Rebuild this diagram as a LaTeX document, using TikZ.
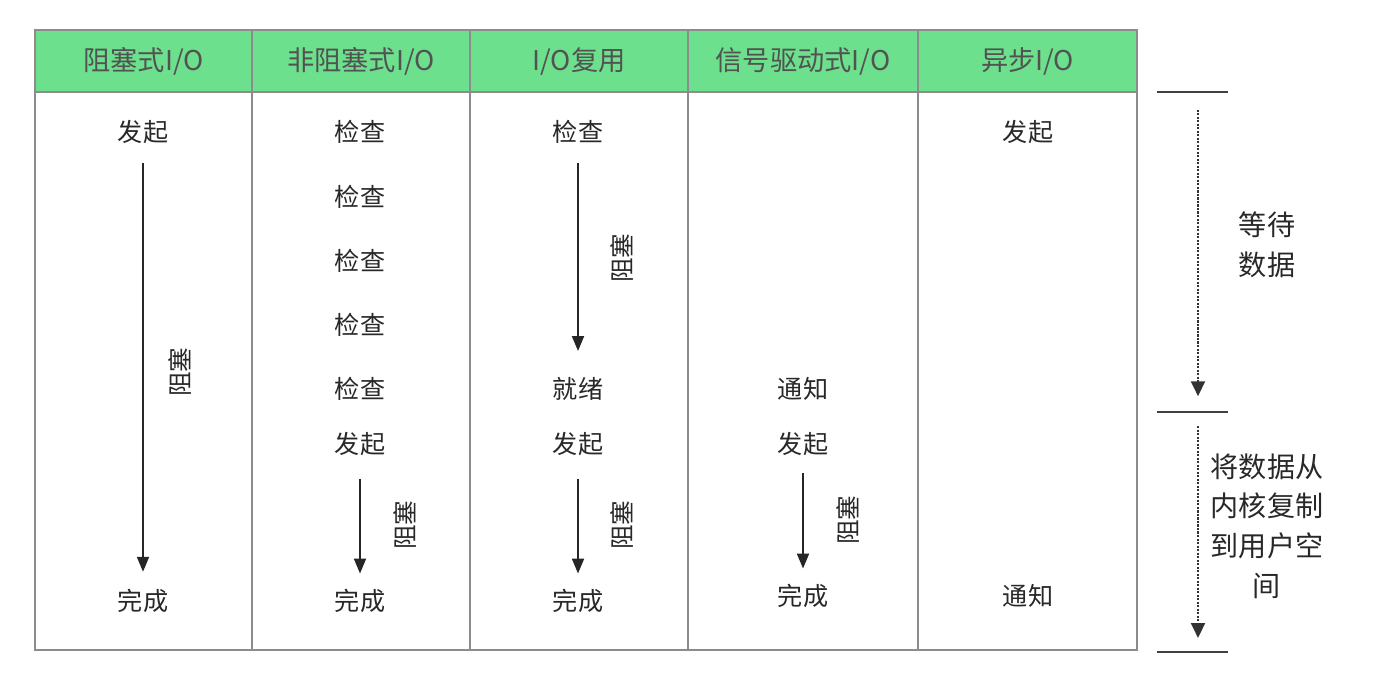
\documentclass[tikz,border=0pt]{standalone}
\usepackage{fontspec}
\setmainfont{Noto Sans CJK SC}
\usetikzlibrary{arrows.meta,positioning}
\definecolor{headgreen}{RGB}{108,224,140}
\definecolor{gridgray}{RGB}{140,140,140}
\definecolor{inkgray}{RGB}{40,40,40}
\tikzset{
  headcell/.style={
    draw=gridgray,
    line width=1.1pt,
    fill=headgreen,
    minimum height=1.24cm,
    inner sep=0pt,
    text=black!68,
    font=\fontsize{15.5}{18}\selectfont
  },
  bodycell/.style={
    draw=gridgray,
    line width=1.1pt,
    fill=white,
    minimum height=11.16cm,
    inner sep=0pt
  },
  stagetext/.style={
    text=inkgray,
    font=\fontsize{14.3}{16}\selectfont,
    inner sep=0pt,
    text height=12pt,
    text depth=2pt
  },
  blocklabel/.style={
    text=inkgray,
    font=\fontsize{14}{16}\selectfont,
    rotate=90,
    inner sep=0pt
  },
  blockarrow/.style={
    -{Triangle[length=8.5pt,width=6.8pt]},
    line width=1.1pt,
    color=black!85,
    shorten <=10pt,
    shorten >=10pt
  },
  phaseline/.style={line width=1.3pt, color=black!75},
  phasearrow/.style={
    dash pattern=on 1.2pt off 0.8pt,
    -{Triangle[length=8.5pt,width=8pt]},
    line width=1pt,
    color=black!80
  },
  phasetext/.style={
    text=inkgray,
    font=\fontsize{16}{22.5}\selectfont,
    align=center,
    inner sep=0pt
  }
}
\begin{document}
\begin{tikzpicture}[x=0.02cm,y=-0.02cm]
\useasboundingbox (0,0) rectangle (1388,690);
% table body and header
\node[bodycell, minimum width=4.34cm] (b1) at (143.5,371) {};
\node[bodycell, minimum width=4.36cm] (b2) at (361,371) {};
\node[bodycell, minimum width=4.36cm] (b3) at (579,371) {};
\node[bodycell, minimum width=4.60cm] (b4) at (803,371) {};
\node[bodycell, minimum width=4.38cm] (b5) at (1027.5,371) {};
\node[headcell, minimum width=4.34cm] (h1) at (143.5,61) {阻塞式I/O};
\node[headcell, minimum width=4.36cm] (h2) at (361,61) {非阻塞式I/O};
\node[headcell, minimum width=4.36cm] (h3) at (579,61) {I/O复用};
\node[headcell, minimum width=4.60cm] (h4) at (803,61) {信号驱动式I/O};
\node[headcell, minimum width=4.38cm] (h5) at (1027.5,61) {异步I/O};
% blocking I/O
\node[stagetext] (a1) at (143,133) {发起};
\node[stagetext] (a2) at (143,602) {完成};
\node[blocklabel] (a3) at (180,372) {阻塞};
\draw[blockarrow] (a1.south) -- (a2.north);
% non-blocking I/O
\node[stagetext] (n1) at (360,133) {检查};
\node[stagetext] (n2) at (360,198) {检查};
\node[stagetext] (n3) at (360,262) {检查};
\node[stagetext] (n4) at (360,326) {检查};
\node[stagetext] (n5) at (360,390) {检查};
\node[stagetext] (n6) at (360,445) {发起};
\node[stagetext] (n7) at (360,602) {完成};
\node[blocklabel] (n8) at (405,525) {阻塞};
\draw[blockarrow, shorten <=12pt, shorten >=9pt] (n6.south) -- (n7.north);
% I/O multiplexing
\node[stagetext] (m1) at (578,133) {检查};
\node[stagetext] (m2) at (578,390) {就绪};
\node[stagetext] (m3) at (578,445) {发起};
\node[stagetext] (m4) at (578,602) {完成};
\node[blocklabel] (m5) at (622,258) {阻塞};
\node[blocklabel] (m6) at (622,525) {阻塞};
\draw[blockarrow, shorten >=15pt] (m1.south) -- (m2.north);
\draw[blockarrow, shorten <=12pt, shorten >=9pt] (m3.south) -- (m4.north);
% signal driven I/O
\node[stagetext] (s1) at (803,390) {通知};
\node[stagetext] (s2) at (803,445) {发起};
\node[stagetext] (s3) at (803,597) {完成};
\node[blocklabel] (s4) at (848,520) {阻塞};
\draw[blockarrow, shorten <=9pt, shorten >=9pt] (s2.south) -- (s3.north);
% asynchronous I/O
\node[stagetext] (y1) at (1028,133) {发起};
\node[stagetext] (y2) at (1028,597) {通知};
% phases on the right
\coordinate (p0) at (1198,92);
\coordinate (p1) at (1198,412);
\coordinate (p2) at (1198,652);
\draw[phaseline] (1157,92) -- (1228,92);
\draw[phaseline] (1157,412) -- (1228,412);
\draw[phaseline] (1157,652) -- (1228,652);
\draw[phasearrow, shorten <=10pt, shorten >=9pt] (p0) -- (p1);
\draw[phasearrow, shorten <=8pt, shorten >=8pt] (p1) -- (p2);
\node[phasetext] (w1) at (1267,245) {等待\\数据};
\node[phasetext] (w2) at (1267,526) {将数据从\\内核复制\\到用户空\\间};
\end{tikzpicture}
\end{document}
